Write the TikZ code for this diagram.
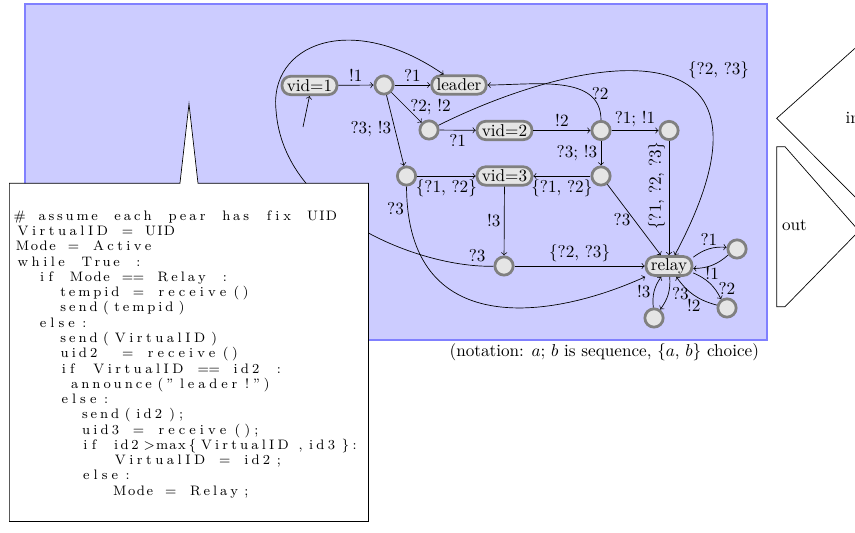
\documentclass[tikz,border=0pt]{standalone}
\usepackage{listings}
\usetikzlibrary{shapes.callouts}
\lstset{basicstyle=\fontsize{8}{8.9}\selectfont, columns=fixed, basewidth=6.3pt,
  aboveskip=0pt, belowskip=0pt}

\begin{document}
\begin{tikzpicture}[x=0.0205cm, y=-0.0205cm, >=to,
  state/.style={circle, draw=gray, line width=1.6pt, fill=gray!20, minimum size=0.375cm, inner sep=0pt},
  mode/.style={rectangle, rounded corners=5pt, draw=gray, line width=1.6pt, fill=gray!20, minimum height=10.7pt, inner xsep=2.8pt, inner ysep=1pt},
  lbl/.style={inner sep=2pt},
  codebox/.style={rectangle callout, draw, fill=white, callout absolute pointer={(189,104)}, callout pointer width=0.37cm, minimum width=7.36cm, minimum height=6.93cm, text width=7.16cm, inner xsep=0.1cm, inner ysep=0pt}]
\useasboundingbox (0,0) rectangle (855,533);
\clip (0,0) rectangle (855,533);
\draw[draw=blue!50, fill=blue!20, line width=1pt] (25,4) rectangle (767,340);
\node[mode] (vid1) at (309.5,85.5) {vid=1};
\node[state] (s1) at (384,85) {};
\node[mode] (leader) at (459,85) {leader};
\node[state] (s2) at (429,130) {};
\node[mode] (vid2) at (504.5,130.5) {vid=2};
\node[state] (s4) at (601,130.5) {};
\node[state] (s5) at (669,130.5) {};
\node[state] (s3) at (406.5,176) {};
\node[mode] (vid3) at (504.5,176) {vid=3};
\node[state] (s6) at (601,176) {};
\node[state] (s7) at (504,266) {};
\node[mode] (relay) at (669,266) {relay};
\node[state] (r1) at (737,249) {};
\node[state] (r2) at (727,308) {};
\node[state] (r3) at (654,318) {};
\coordinate (init) at (303,127);
\draw[->] (init) -- (vid1.south);
\draw[->] (vid1) -- node[lbl,above]{!1} (s1);
\draw[->] (s1) -- node[lbl,above]{?1} (leader);
\draw[->] (s1) -- node[lbl,right]{?2; !2} (s2);
\draw[->] (s1) -- node[lbl,left,pos=0.48]{?3; !3} (s3);
\draw[->] (s2) -- node[lbl,below]{?1} (vid2);
\draw[->] (s2) .. controls (590,50) and (800,20) .. (relay) node[lbl,pos=0.58,above right]{\{?2, ?3\}};
\draw[->] (vid2) -- node[lbl,above]{!2} (s4);
\draw[->] (s4) to[out=90,in=0] node[lbl,pos=0.27,right]{?2} (leader);
\draw[->] (s4) -- node[lbl,above]{?1; !1} (s5);
\draw[->] (s4) -- node[lbl,left]{?3; !3} (s6);
\draw[->] (s6) -- node[lbl,below]{\{?1, ?2\}} (vid3);
\draw[->] (s3) -- node[lbl,below]{\{?1, ?2\}} (vid3);
\draw[->] (s5) -- node[lbl,pos=0.39,rotate=90,above]{\{?1, ?2, ?3\}} (relay);
\draw[->] (s6) -- node[lbl,pos=0.5,left]{?3} (relay);
\draw[->] (vid3) -- node[lbl,left]{!3} (s7);
\draw[->] (s7) -- node[lbl,above]{\{?2, ?3\}} (relay);
\draw[->] (s7) .. controls (420,268) and (283,215) .. (276,110) node[lbl,pos=0.07,above]{?3} .. controls (269,45) and (350,10) .. (leader);
\draw[->] (s3) .. controls (407,340) and (550,320) .. (relay) node[lbl,pos=0.05,left]{?3};
\draw[->] (relay.20) to[bend left=20] node[lbl,above]{?1} (r1);
\draw[->] (r1) to[bend left=20] node[lbl,below,inner sep=1pt]{!1} (relay);
\draw[->] (relay) to[bend left=20] node[lbl,pos=0.7,right]{?2} (r2);
\draw[->] (r2) to[bend left=20] node[lbl,below]{!2} (relay);
\draw[->] (relay) to[bend left=20] node[lbl,right]{?3} (r3);
\draw[->] (r3) to[bend left=20] node[lbl,left]{!3} (relay);
\node[anchor=east] (note) at (765,352) {(notation: $a$; $b$ is sequence, \{$a$, $b$\} choice)};
\node[codebox, anchor=north west] (code) at (9,183) {%
\begin{lstlisting}
# assume each pear has fix UID
VirtualID = UID
Mode = Active
while True :
  if Mode == Relay :
    tempid = receive()
    send(tempid)
  else:
    send(VirtualID)
    uid2  = receive()
    if VirtualID == id2 :
     announce("leader!")
    else:
      send(id2);
      uid3 = receive();
      if id2>max{VirtualID,id3}:
         VirtualID = id2;
      else:
         Mode = Relay;
\end{lstlisting}
};
\draw (776.7,118.3) -- (960,-45.6) -- (960,302.5) -- cycle;
\node[anchor=base west] (inlbl) at (839.5,124) {in};
\draw (776.7,146.7) -- (785,146.7) -- (859,231) -- (785,306.7) -- (776.7,306.7) -- cycle;
\node[anchor=base west] (outlbl) at (776,230.5) {out};
\end{tikzpicture}
\end{document}
